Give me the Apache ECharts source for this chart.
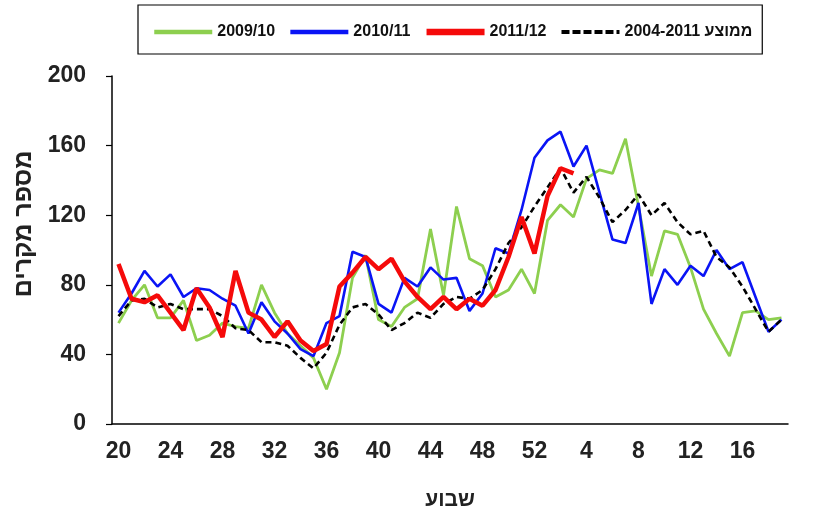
<!DOCTYPE html>
<html>
<head>
<meta charset="utf-8">
<script src="https://cdn.jsdelivr.net/npm/echarts@6/dist/echarts.min.js"></script>
<style>
  html, body { margin: 0; padding: 0; background: #fff; }
  #main { width: 823px; height: 519px; }
</style>
</head>
<body>
<div id="main"></div>
<script>
// weeks 20..52 then 1..19
var weeks = ['20','21','22','23','24','25','26','27','28','29','30','31','32','33','34','35','36','37','38','39',
  '40','41','42','43','44','45','46','47','48','49','50','51','52',
  '1','2','3','4','5','6','7','8','9','10','11','12','13','14','15','16','17','18','19']

var season0910 = [58, 71, 80, 61, 61, 71, 48, 51, 58, 56, 55, 80, 64, 52, 45, 38, 20, 41, 84, 97,
  60, 56, 67, 72, 112, 74, 125, 95, 91, 73, 77, 89, 75,
  117, 126, 119, 141, 146, 144, 164, 125, 85, 111, 109, 90, 66, 52, 39, 64, 65, 60, 61]

var season1011 = [64, 75, 88, 79, 86, 73, 78, 77, 72, 68, 52, 70, 59, 52, 43, 39, 58, 62, 99, 96,
  69, 64, 84, 79, 90, 83, 84, 65, 75, 101, 98, 123, 153,
  163, 168, 148, 160, 133, 106, 104, 127, 69, 89, 80, 91, 85, 100, 89, 93, 73, 53, 60]

var season1112 = [92, 72, 70, 74, 64, 54, 78, 67, 50, 88, 64, 60, 50, 59, 48, 42, 46, 79, 87, 96,
  89, 95, 82, 73, 66, 73, 66, 72, 68, 77, 96, 119, 98,
  131, 147, 144, null, null, null, null, null, null, null, null, null, null, null, null, null, null, null, null]

var average0411 = [62, 71, 72, 67, 69, 66, 66, 66, 62, 55, 54, 47, 47, 45, 38, 32, 41, 57, 67, 69,
  63, 54, 58, 64, 61, 69, 73, 72, 77, 89, 104, 113, 125,
  136, 147, 133, 142, 130, 116, 123, 132, 120, 127, 116, 109, 111, 96, 90, 79, 66, 53, 60]

var yTicks = [0, 40, 80, 120, 160, 200]

var font = '"Liberation Sans", Arial, sans-serif'

var chart = echarts.init(document.getElementById('main'))

chart.setOption({
  backgroundColor: '#fff',
  animation: false,
  legend: {
    top: 5,
    left: 138,
    data: [
      { name: '2009/10', lineStyle: { width: 4.5 } },
      { name: '2010/11', lineStyle: { width: 4.5 } },
      { name: '2011/12', lineStyle: { width: 6.5 } },
      { name: '2004-2011 ממוצע', lineStyle: { width: 4, type: [8, 3] } }
    ],
    borderColor: '#000',
    borderWidth: 1.2,
    padding: [19, 10, 14, 14],
    itemWidth: 58,
    itemHeight: 14,
    itemGap: 13,
    itemStyle: { opacity: 0 },
    textStyle: {
      fontFamily: font,
      fontWeight: 'bold',
      fontSize: 16,
      color: '#111'
    }
  },
  grid: {
    left: 112,
    right: 35,
    top: 76,
    bottom: 95
  },
  xAxis: {
    type: 'category',
    data: weeks,
    boundaryGap: true,
    name: 'שבוע',
    nameLocation: 'middle',
    nameGap: 66,
    nameTextStyle: {
      fontFamily: font,
      fontWeight: 'bold',
      fontSize: 21,
      color: '#222'
    },
    axisLine: { lineStyle: { color: '#000', width: 1.5 } },
    axisTick: {
      interval: 0,
      length: 6,
      lineStyle: { color: '#000', width: 1.2 }
    },
    axisLabel: {
      interval: 3,
      margin: 16,
      fontFamily: font,
      fontWeight: 'bold',
      fontSize: 23,
      color: '#222'
    },
    splitLine: { show: false }
  },
  yAxis: {
    type: 'value',
    min: yTicks[0],
    max: yTicks[yTicks.length - 1],
    interval: 40,
    name: 'מספר מקרים',
    nameLocation: 'middle',
    nameGap: 74,
    nameTextStyle: {
      fontFamily: font,
      fontWeight: 'bold',
      fontSize: 25,
      color: '#222',
      padding: [0, 0, 0, 52]
    },
    axisLine: { show: true, lineStyle: { color: '#000', width: 1.5 } },
    axisTick: { show: true, length: 6, lineStyle: { color: '#000', width: 1.2 } },
    axisLabel: {
      margin: 26,
      fontFamily: font,
      fontWeight: 'bold',
      fontSize: 23,
      color: '#222'
    },
    splitLine: { show: false }
  },
  series: [
    {
      name: '2009/10',
      type: 'line',
      data: season0910,
      symbol: 'none',
      z: 2,
      lineStyle: { color: '#8dcf4f', width: 2.8 },
      itemStyle: { color: '#8dcf4f' }
    },
    {
      name: '2010/11',
      type: 'line',
      data: season1011,
      symbol: 'none',
      z: 3,
      lineStyle: { color: '#0a14f5', width: 2.6 },
      itemStyle: { color: '#0a14f5' }
    },
    {
      name: '2004-2011 ממוצע',
      type: 'line',
      data: average0411,
      symbol: 'none',
      z: 4,
      lineStyle: { color: '#000', width: 2.6, type: [6, 4] },
      itemStyle: { color: '#000' }
    },
    {
      name: '2011/12',
      type: 'line',
      data: season1112,
      symbol: 'none',
      z: 5,
      lineStyle: { color: '#f50a0a', width: 4.5 },
      itemStyle: { color: '#f50a0a' }
    }
  ]
})
</script>
</body>
</html>
